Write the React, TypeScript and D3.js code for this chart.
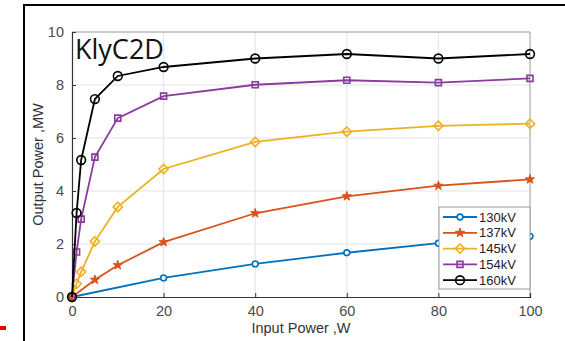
import { useRef, useEffect } from "react";
import * as d3 from "d3";

const W = 565;
const H = 341;
const margin = { top: 32, right: 35, bottom: 44, left: 72 };
const plotW = W - margin.left - margin.right;
const plotH = H - margin.top - margin.bottom;

const xLow = [0, 1, 2, 5, 10, 20, 40, 60, 80, 100];
const xBlue = [0, 20, 40, 60, 80, 100];
const xOrange = [0, 5, 10, 20, 40, 60, 80, 100];

const kv130 = [0, 0.72, 1.25, 1.67, 2.03, 2.29];
const kv137 = [0, 0.65, 1.2, 2.07, 3.16, 3.8, 4.2, 4.44];
const kv145 = [0, 0.5, 0.95, 2.1, 3.4, 4.83, 5.85, 6.24, 6.46, 6.54];
const kv154 = [0, 1.7, 2.94, 5.28, 6.75, 7.58, 8.01, 8.18, 8.09, 8.25];
const kv160 = [0, 3.17, 5.17, 7.47, 8.34, 8.68, 9.0, 9.17, 9.0, 9.17];

const labels = ["130kV", "137kV", "145kV", "154kV", "160kV"];
const colors = ["#0072BD", "#D95319", "#EDB120", "#8B3A9E", "#000000"];
const xTicks = [0, 20, 40, 60, 80, 100];
const yTicks = [0, 2, 4, 6, 8, 10];

const series = [
  { name: labels[0], xs: xBlue, ys: kv130, color: colors[0], shape: "circle", size: 26, fill: "#fff" },
  { name: labels[1], xs: xOrange, ys: kv137, color: colors[1], shape: "star", size: 26, fill: colors[1] },
  { name: labels[2], xs: xLow, ys: kv145, color: colors[2], shape: "diamond", size: 55, fill: "none" },
  { name: labels[3], xs: xLow, ys: kv154, color: colors[3], shape: "square", size: 36, fill: "none" },
  { name: labels[4], xs: xLow, ys: kv160, color: colors[4], shape: "circle", size: 60, fill: "none" },
];

const symbolType = (s: string) =>
  s === "star" ? d3.symbolStar : s === "diamond" ? d3.symbolDiamond2 : s === "square" ? d3.symbolSquare : d3.symbolCircle;

export default function App() {
  const ref = useRef<SVGSVGElement>(null);

  useEffect(() => {
    const svg = d3.select(ref.current);
    svg.selectAll("*").remove();

    // outer frame + red mark
    svg.append("path").attr("d", `M24,${H} L24,5 L${W},5`).attr("fill", "none").attr("stroke", "#000").attr("stroke-width", 2);
    svg.append("rect").attr("x", 0).attr("y", 326).attr("width", 6).attr("height", 4).attr("fill", "#e00000");

    const g = svg.append("g").attr("transform", `translate(${margin.left},${margin.top})`);
    const x = d3.scaleLinear().domain([0, 100]).range([0, plotW]);
    const y = d3.scaleLinear().domain([0, 10]).range([plotH, 0]);

    // grid
    g.selectAll(".gx").data(xTicks.slice(1, -1)).join("line")
      .attr("x1", d => x(d)).attr("x2", d => x(d)).attr("y1", 0).attr("y2", plotH)
      .attr("stroke", "#e3e3e3").attr("stroke-width", 1);
    g.selectAll(".gy").data(yTicks.slice(1, -1)).join("line")
      .attr("y1", d => y(d)).attr("y2", d => y(d)).attr("x1", 0).attr("x2", plotW)
      .attr("stroke", "#e3e3e3").attr("stroke-width", 1);

    // box
    g.append("path").attr("d", `M0,0 L${plotW},0 L${plotW},${plotH}`).attr("fill", "none").attr("stroke", "#9a9a9a").attr("stroke-width", 1);

    // axes
    const xAxis = g.append("g").attr("transform", `translate(0,${plotH})`)
      .call(d3.axisBottom(x).tickValues(xTicks).tickSize(-4).tickPadding(9));
    const yAxis = g.append("g").call(d3.axisLeft(y).tickValues(yTicks).tickSize(-4).tickPadding(8));
    [xAxis, yAxis].forEach(a => {
      a.selectAll("path").attr("stroke", "#333").attr("stroke-width", 1.2);
      a.selectAll("line").attr("stroke", "#333");
      a.selectAll("text").attr("fill", "#4a4a4a").style("font-family", "Liberation Sans, Arial, sans-serif").style("font-size", "14.5px");
    });

    // axis labels
    g.append("text").attr("x", plotW / 2).attr("y", plotH + 36).attr("text-anchor", "middle")
      .style("font-family", "Liberation Sans, Arial, sans-serif").style("font-size", "14.5px").attr("fill", "#333")
      .text("Input Power ,W");
    g.append("text").attr("transform", "rotate(-90)").attr("x", -plotH / 2).attr("y", -29).attr("text-anchor", "middle")
      .style("font-family", "Liberation Sans, Arial, sans-serif").style("font-size", "14.5px").attr("fill", "#333")
      .text("Output Power ,MW");

    // title
    g.append("text").attr("x", 3).attr("y", 27).style("font-family", "Open Sans, sans-serif").style("font-size", "27px")
      .attr("fill", "#111").text("KlyC2D");

    // lines
    const line = d3.line<[number, number]>().x(d => x(d[0])).y(d => y(d[1]));
    series.forEach(s => {
      const pts: [number, number][] = s.xs.map((v, i) => [v, s.ys[i]]);
      g.append("path").datum(pts).attr("d", line).attr("fill", "none").attr("stroke", s.color).attr("stroke-width", 1.8);
      g.selectAll(null).data(pts).join("path")
        .attr("transform", d => `translate(${x(d[0])},${y(d[1])})`)
        .attr("d", d3.symbol().type(symbolType(s.shape)).size(s.size)())
        .attr("fill", s.fill).attr("stroke", s.color).attr("stroke-width", s.shape === "star" ? 1 : 1.6);
    });

    // legend
    const lg = g.append("g").attr("transform", `translate(${plotW - 91},${175})`);
    lg.append("rect").attr("width", 91).attr("height", 82).attr("fill", "#fff").attr("stroke", "#9a9a9a");
    series.forEach((s, i) => {
      const yy = 10 + i * 15.8;
      lg.append("line").attr("x1", 4).attr("x2", 38).attr("y1", yy).attr("y2", yy).attr("stroke", s.color).attr("stroke-width", 1.8);
      lg.append("path").attr("transform", `translate(21,${yy})`)
        .attr("d", d3.symbol().type(symbolType(s.shape)).size(s.size)())
        .attr("fill", s.fill).attr("stroke", s.color).attr("stroke-width", s.shape === "star" ? 1 : 1.6);
      lg.append("text").attr("x", 40).attr("y", yy).attr("dy", "0.35em")
        .style("font-family", "Liberation Sans, Arial, sans-serif").style("font-size", "13px").attr("fill", "#222")
        .text(s.name);
    });
  }, []);

  return (
    <svg ref={ref} width={W} height={H} style={{ position: "fixed", left: 0, top: 0, background: "#fff" }} />
  );
}
